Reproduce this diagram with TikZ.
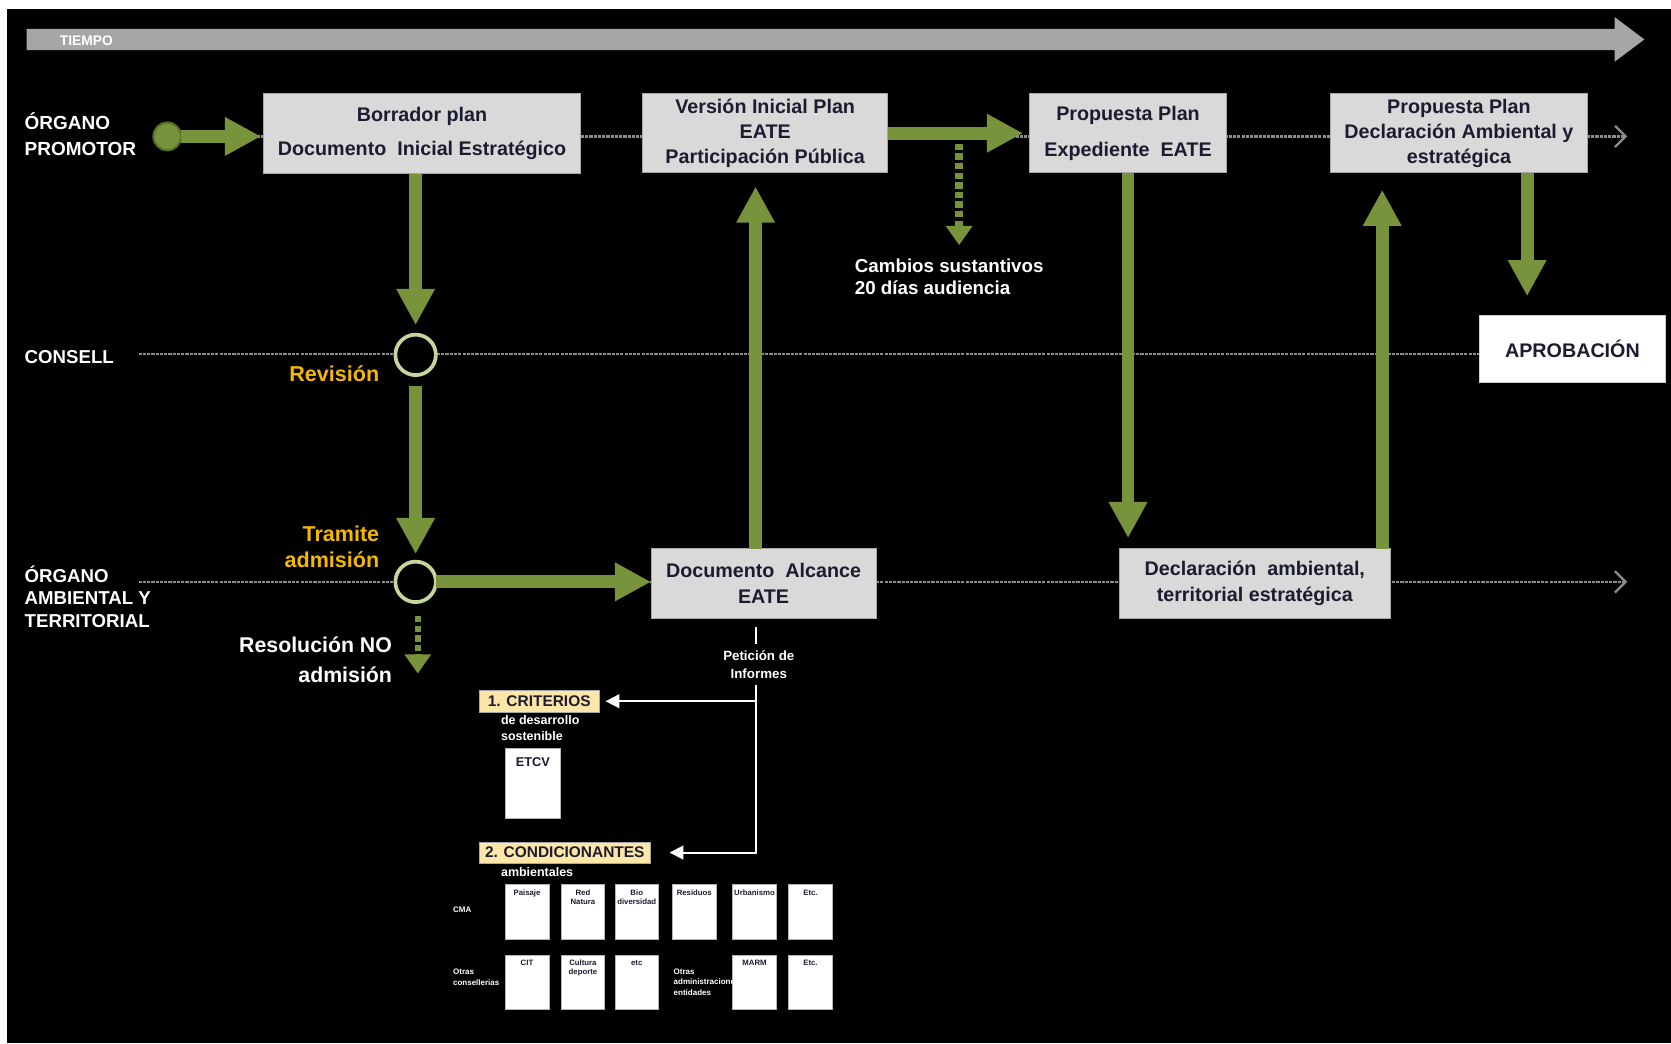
\documentclass[tikz,border=0pt]{standalone}
\usepackage{fontspec}
\setmainfont{Liberation Sans}
\usetikzlibrary{arrows.meta}
\definecolor{grn}{HTML}{77933C}
\definecolor{grndk}{HTML}{56702A}
\definecolor{ringc}{HTML}{C3D69B}
\definecolor{boxfill}{HTML}{D9D9D9}
\definecolor{boxline}{HTML}{A6A6A6}
\definecolor{txtdk}{HTML}{1C1C30}
\definecolor{gold}{HTML}{F5B800}
\definecolor{timegray}{HTML}{A6A6A6}
\definecolor{yel}{HTML}{FDE6A8}
\definecolor{lanegray}{HTML}{8C8C8C}
\begin{document}
\begin{tikzpicture}[x=1pt,y=-1pt,
  stepbox/.style={draw=boxline, fill=boxfill, line width=0.8pt, inner sep=0pt, outer sep=0pt, align=center, text=txtdk},
  f18/.style={font=\bfseries\fontsize{18.5}{#1}\selectfont},
  fat/.style={draw=grn, line width=12pt, -{Triangle[length=34pt,width=34pt]}},
  dashgr/.style={draw=grn, line width=7pt, dash pattern=on 6pt off 3pt, -{Triangle[length=18pt,width=24pt]}},
  lane/.style={draw=lanegray, line width=2.2pt, dash pattern=on 3pt off 1pt},
  lanetip/.style={lane, -{Straight Barb[length=10pt,width=20pt,line width=2.2pt]}},
  lanelabel/.style={text=white, anchor=west, align=left, inner sep=0pt},
  ringnode/.style={circle, draw=ringc, line width=3.5pt, fill=black, minimum size=38pt, inner sep=0pt, outer sep=0pt},
  goldtxt/.style={text=gold, inner sep=0pt},
  whitetxt/.style={text=white, inner sep=0pt},
  critbox/.style={draw=boxline, fill=yel, line width=0.6pt, inner sep=0pt, text=txtdk, font=\bfseries\fontsize{14.5}{16}\selectfont},
  smallw/.style={text=white, anchor=west, align=left, inner sep=0pt, font=\bfseries\fontsize{11.7}{15}\selectfont},
  smallbox/.style={draw=gray!60, fill=white, line width=0.6pt, minimum width=41pt, minimum height=51pt, inner sep=0pt},
  smalltxt/.style={text=txtdk, align=center, inner sep=0pt, anchor=north, yshift=-5pt, font=\bfseries\fontsize{7.3}{8.5}\selectfont},
  tinyw/.style={text=white, anchor=west, align=left, inner sep=0pt, font=\bfseries\fontsize{7.5}{9.8}\selectfont},
  wline/.style={draw=white, line width=1.8pt},
  warrow/.style={wline, -{Triangle[length=13pt,width=13pt]}}
]
\fill[white] (0,0) rectangle (1568,979);
\fill[black] (7,8) rectangle (1568,979);
\useasboundingbox (0,0) rectangle (1568,979);

% time arrow
\fill[timegray] (25,27) -- (1515,27) -- (1515,16) -- (1543,37) -- (1515,58) -- (1515,47) -- (25,47) -- cycle;
\node[whitetxt, anchor=west, font=\bfseries\fontsize{13}{14}\selectfont] (tiempo) at (56,38) {TIEMPO};

% lanes
\coordinate (l1s) at (145,128); \coordinate (l1e) at (1527,128);
\coordinate (l2s) at (130,332); \coordinate (l2e) at (1388,332);
\coordinate (l3s) at (130,546); \coordinate (l3e) at (1527,546);
\draw[lanetip] (l1s) -- (l1e);
\draw[lane] (l2s) -- (l2e);
\draw[lanetip] (l3s) -- (l3e);

% lane labels
\node[lanelabel, font=\bfseries\fontsize{17.8}{25}\selectfont] (lp) at (23,126) {ÓRGANO\\PROMOTOR};
\node[lanelabel, font=\bfseries\fontsize{17.5}{22}\selectfont] (lc) at (23,335) {CONSELL};
\node[lanelabel, font=\bfseries\fontsize{17.5}{21.5}\selectfont] (la) at (23,560) {ÓRGANO\\AMBIENTAL Y\\TERRITORIAL};

% boxes
\node[stepbox, f18=32, minimum width=298pt, minimum height=75pt] (b1) at (396,125.5) {Borrador plan\\Documento\ \ Inicial Estratégico};
\node[stepbox, f18=23.5, minimum width=230pt, minimum height=74pt] (b2) at (718,125) {Versión Inicial Plan\\EATE\\Participación Pública};
\node[stepbox, f18=34, minimum width=185pt, minimum height=74pt] (b3) at (1058.5,125) {Propuesta Plan\\Expediente\ \ EATE};
\node[stepbox, f18=23.5, minimum width=242pt, minimum height=74pt] (b4) at (1369,125) {Propuesta Plan\\Declaración Ambiental y\\estratégica};
\node[stepbox, f18=24, minimum width=211pt, minimum height=65pt] (b5) at (716.5,547.5) {Documento\ \ Alcance\\EATE};
\node[stepbox, f18=24, minimum width=255pt, minimum height=65pt] (b6) at (1177.5,547.5) {Declaración\ \ ambiental,\\territorial estratégica};
\node[stepbox, draw=gray!40, fill=white, f18=22, minimum width=175pt, minimum height=63pt] (aprob) at (1475.5,327.5) {APROBACIÓN};

% circles
\node[circle, draw=grndk, fill=grn, line width=2pt, minimum size=26pt, inner sep=0pt, outer sep=0pt] (st) at (157,128) {};
\node[ringnode] (c1) at (390,333) {};
\node[ringnode] (c2) at (390,546) {};

% labels
\node[goldtxt, anchor=east, font=\bfseries\fontsize{20.2}{22}\selectfont] (rev) at (356,351) {Revisión};
\node[goldtxt, anchor=east, align=right, font=\bfseries\fontsize{20.2}{24}\selectfont] (tram) at (356,513) {Tramite\\admisión};
\node[whitetxt, anchor=east, align=right, font=\bfseries\fontsize{20}{28}\selectfont] (res) at (368,619) {Resolución NO\\admisión};
\node[whitetxt, anchor=west, align=left, font=\bfseries\fontsize{17.6}{21}\selectfont] (camb) at (802,259.5) {Cambios sustantivos\\20 días audiencia};

% coordinates for connectors
\coordinate (nores) at (392,632);
\coordinate (cambt) at (900,230);
\coordinate (u6) at ([xshift=-8pt]b6.north east);
\coordinate (d4) at ([xshift=-57pt]b4.south east);
\coordinate (u5) at ([xshift=-7.5pt]b5.north);

% green connectors
\draw[fat, shorten >=2pt] (st.east) -- (st.east -| b1.west);
\draw[fat, shorten >=9pt] (b1.south -| c1) -- (c1);
\draw[fat, shorten <=10pt, shorten >=7pt] (c1) -- (c2);
\draw[fat] (c2) -- (c2 -| b5.west);
\draw[dashgr, line width=6pt, shorten <=13pt] (c2.south -| nores) -- (nores);
\draw[fat, shorten >=13pt] (u5) -- (u5 |- b2.south);
\draw[fat, shorten >=6pt] (b2.east) -- (b3.west);
\draw[dashgr, shorten <=10pt] (b2.east -| cambt) -- (cambt);
\draw[fat, shorten >=10pt] (b3.south) -- (b3.south |- b6.north);
\draw[fat, shorten >=16pt] (u6) -- (u6 |- b4.south);
\draw[fat, shorten >=18pt] (d4) -- (d4 |- aprob.north);

% petition of reports
\node[whitetxt, align=center, font=\bfseries\fontsize{12.5}{17}\selectfont] (pet) at (712,624) {Petición de\\Informes};
\node[critbox, minimum width=112pt, minimum height=20pt] (cr1) at (506,658) {1. CRITERIOS};
\node[smallw] (cr1t) at (470,683.5) {de desarrollo\\sostenible};
\node[smallbox, minimum width=52pt, minimum height=66pt, label={[smalltxt, yshift=-4pt, font=\bfseries\fontsize{12}{13}\selectfont]north:ETCV}] (etcv) at (500,735) {};
\node[critbox, minimum width=160pt, minimum height=20pt] (cr2) at (530,800) {2. CONDICIONANTES};
\node[smallw] (cr2t) at (470,818) {ambientales};

\coordinate (pa) at (709,588);
\coordinate (pd) at (709,800);
\coordinate (pe) at (709,658);
\draw[wline, shorten >=6pt] (pa) -- (pa |- pet.north);
\draw[warrow, shorten <=5pt, shorten >=18pt] (pa |- pet.south) -- (pd) -- (cr2.east);
\draw[warrow, shorten >=6pt] (pe) -- (cr1.east);

% small boxes
\foreach \x/\t/\n in {494.5/Paisaje/a1, 547/{Red\\Natura}/a2, 597.5/{Bio\\diversidad}/a3, 651.5/Residuos/a4, 708/Urbanismo/a5, 760.5/Etc./a6}{
  \node[smallbox, label={[smalltxt]north:\t}] (\n) at (\x,855.5) {};
}
\foreach \x/\t/\n in {494.5/CIT/b1x, 547/{Cultura\\deporte}/b2x, 597.5/etc/b3x, 708/MARM/b5x, 760.5/Etc./b6x}{
  \node[smallbox, label={[smalltxt]north:\t}] (\n) at (\x,921.5) {};
}
\node[tinyw] (cma) at (425,854) {CMA};
\node[tinyw] (otc) at (425,917) {Otras\\consellerias};
\node[tinyw] (ota) at (632,921.5) {Otras\\administraciones\\entidades};
\end{tikzpicture}
\end{document}
